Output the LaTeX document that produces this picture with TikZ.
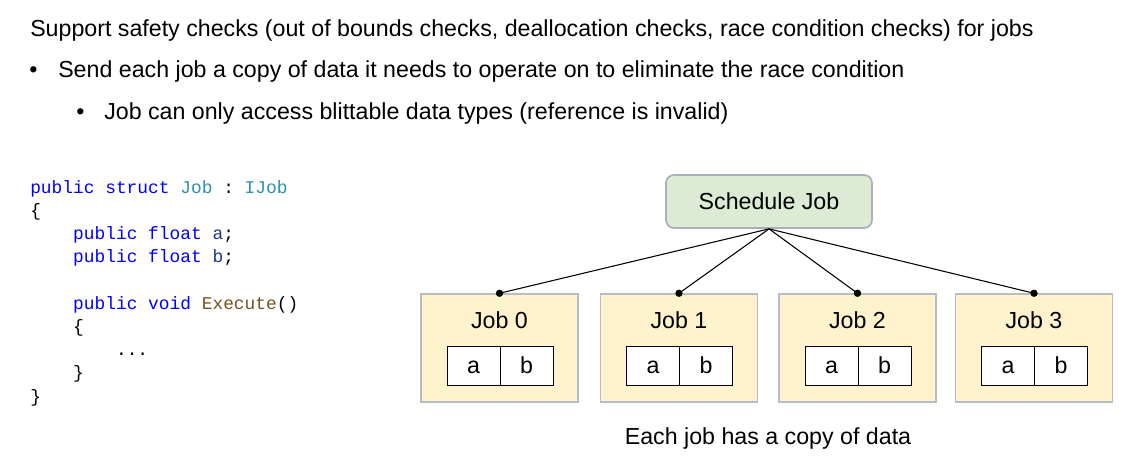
\documentclass[tikz,border=0pt]{standalone}
\usepackage{fontspec}
\setmainfont{Liberation Sans}
\setmonofont{Liberation Mono}
\usepackage{tikz}

\definecolor{kwblue}{RGB}{0,0,255}
\definecolor{typeteal}{RGB}{43,145,175}
\definecolor{methbrown}{RGB}{116,83,31}
\definecolor{fieldnavy}{RGB}{31,55,127}
\definecolor{schedfill}{HTML}{DDEBD5}
\definecolor{schedline}{HTML}{A9AFBC}
\definecolor{jobfill}{HTML}{FFF2CC}
\definecolor{jobline}{HTML}{B8BCC4}

\newcommand{\kw}[1]{\textcolor{kwblue}{#1}}
\newcommand{\codeindent}{\phantom{xxxx}}

\tikzset{
  sched/.style={draw=schedline,line width=1.3pt,fill=schedfill,rounded corners=6pt,
    minimum width=154.5pt,minimum height=39.75pt,font=\fontsize{17.4}{20}\selectfont},
  jobbox/.style={draw=jobline,line width=1.1pt,fill=jobfill,minimum width=117.75pt,minimum height=81pt},
  cell/.style={draw=black,line width=0.6pt,fill=white,minimum width=39.75pt,minimum height=29.25pt,
    inner sep=0pt,text height=12pt,text depth=0pt,font=\fontsize{17.4}{20}\selectfont},
  joblabel/.style={font=\fontsize{17.4}{20}\selectfont},
  slide/.style={anchor=base west,inner sep=0pt,font=\fontsize{17.4}{20}\selectfont},
  dot/.style={circle,fill=black,inner sep=0pt,minimum size=5.5pt}
}

\begin{document}
\begin{tikzpicture}[x=0.75pt,y=-0.75pt]
\useasboundingbox (0,0) rectangle (1126,464);

% text at the top
\node[slide] (title) at (30,36)
  {Support safety checks (out of bounds checks, deallocation checks, race condition checks) for jobs};
\node[slide] (bul1) at (29,77) {\textbullet};
\node[slide] (item1) at (58,77)
  {Send each job a copy of data it needs to operate on to eliminate the race condition};
\node[slide] (bul2) at (76,119) {\textbullet};
\node[slide] (item2) at (104,119)
  {Job can only access blittable data types (reference is invalid)};

% the struct
\node[anchor=north west,align=left,inner sep=0pt,font=\ttfamily\fontsize{13.4}{17.4}\selectfont] (code) at (30,180)
  {\kw{public struct} \textcolor{typeteal}{Job} : \textcolor{typeteal}{IJob}\\
   \{\\
   \codeindent\kw{public float} \textcolor{fieldnavy}{a};\\
   \codeindent\kw{public float} \textcolor{fieldnavy}{b};\\
   \mbox{}\\
   \codeindent\kw{public void} \textcolor{methbrown}{Execute}()\\
   \codeindent\{\\
   \codeindent\codeindent...\\
   \codeindent\}\\
   \}};

% scheduler
\node[sched] (sched) at (769,201.5) {Schedule Job};

% jobs
\node[jobbox] (job0) at (499.5,348) {};
\node[jobbox] (job1) at (679,348) {};
\node[jobbox] (job2) at (857.5,348) {};
\node[jobbox] (job3) at (1034,348) {};

\node[joblabel] (lab0) at (499.5,320) {Job 0};
\node[joblabel] (lab1) at (679,320) {Job 1};
\node[joblabel] (lab2) at (857.5,320) {Job 2};
\node[joblabel] (lab3) at (1034,320) {Job 3};

\node[cell] (a0) at (473.5,365.5) {a};
\node[cell] (b0) at (526.5,365.5) {b};
\node[cell] (a1) at (653,365.5) {a};
\node[cell] (b1) at (706,365.5) {b};
\node[cell] (a2) at (831.5,365.5) {a};
\node[cell] (b2) at (884.5,365.5) {b};
\node[cell] (a3) at (1008,365.5) {a};
\node[cell] (b3) at (1061,365.5) {b};

\node[dot] (d0) at (job0.north) {};
\node[dot] (d1) at (job1.north) {};
\node[dot] (d2) at (job2.north) {};
\node[dot] (d3) at (job3.north) {};

\draw[line width=0.8pt] (sched.south) -- (d0.center);
\draw[line width=0.8pt] (sched.south) -- (d1.center);
\draw[line width=0.8pt] (sched.south) -- (d2.center);
\draw[line width=0.8pt] (sched.south) -- (d3.center);

\node[anchor=base,inner sep=0pt,font=\fontsize{17.4}{20}\selectfont] (caption) at (768,444) {Each job has a copy of data};
\end{tikzpicture}
\end{document}
